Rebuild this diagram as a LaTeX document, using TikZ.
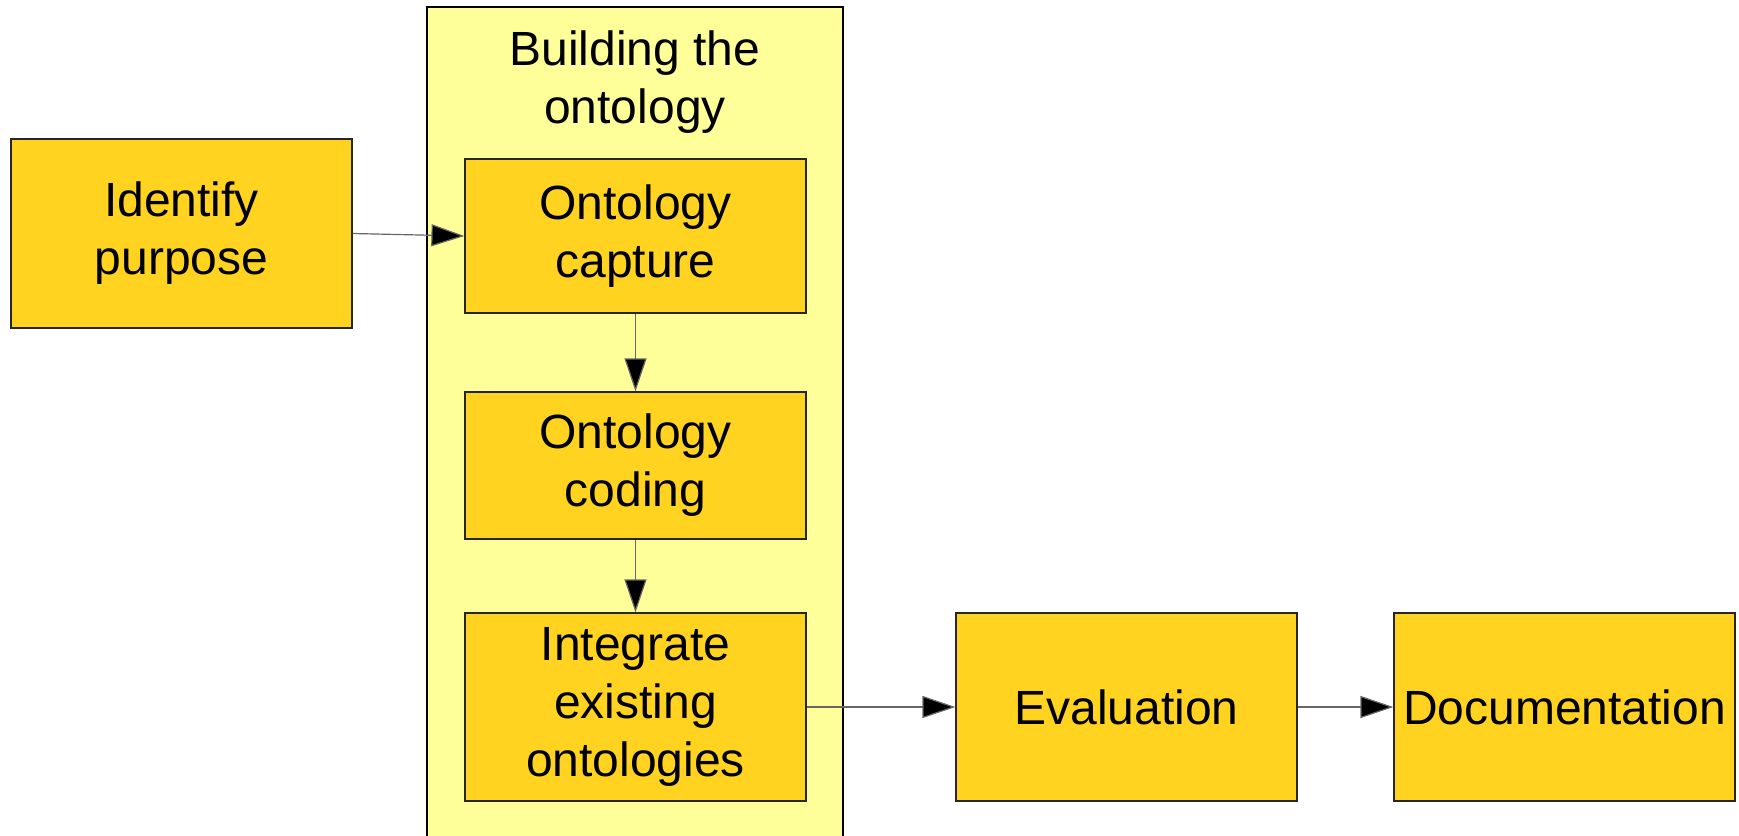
\documentclass[tikz,border=0pt]{standalone}
\usepackage{fontspec}
\setmainfont{Liberation Sans}
\usetikzlibrary{arrows.meta}
\definecolor{boxfill}{HTML}{FFD320}
\definecolor{groupfill}{HTML}{FFFF99}
\tikzset{
  stage/.style={draw=black!85,line width=0.6pt,fill=boxfill,minimum width=341\U,
    align=center,inner sep=0pt,font=\fontsize{24}{29}\selectfont},
  flow/.style={draw=black!60,line width=0.6pt,-{Triangle[length=16.5pt,width=11pt,fill=black]}}
}
\begin{document}
\begin{tikzpicture}[x=0.5pt,y=-0.5pt]
    \def\U{*0.5pt}
    \useasboundingbox (0,0) rectangle (1739,835);
    % gruppe
    \draw[line width=0.6pt,fill=groupfill] (427,7) rectangle (843,845);
    \node[align=center,font=\fontsize{24}{29}\selectfont] (buildtitle) at (635,82) {Building the\\ontology};
    \node[stage,minimum height=189\U] (identify) at (181.5,233.5) {Identify\\purpose};
    \node[stage,minimum height=154\U] (capture) at (635.5,236) {Ontology\\capture};
    \node[stage,minimum height=147\U] (coding) at (635.5,465.5) {Ontology\\coding};
    \node[stage,minimum height=188\U] (integrate) at (635.5,707) {Integrate\\existing\\ontologies};
    \node[stage,minimum height=188\U] (evaluation) at (1126.5,707) {Evaluation};
    \node[stage,minimum height=188\U] (documentation) at (1564.5,707) {Documentation};
    \draw[flow] (identify.east)--(capture.west);
    \draw[flow] (capture)--(coding);
    \draw[flow] (coding)--(integrate);
    \draw[flow] (integrate)--(evaluation);
    \draw[flow] (evaluation)--(documentation);
  \end{tikzpicture}
\end{document}
